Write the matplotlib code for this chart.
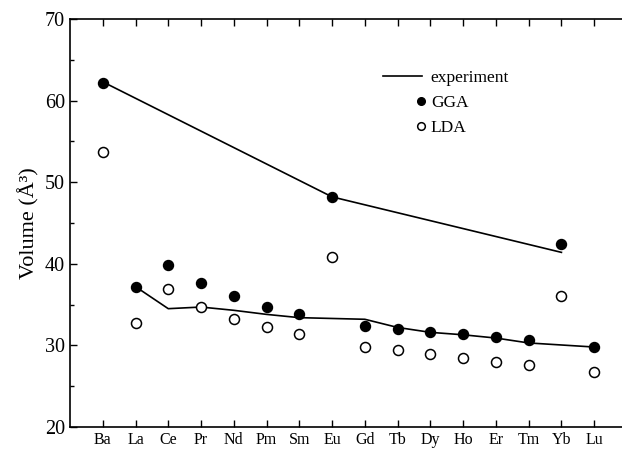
import numpy as np
import matplotlib
matplotlib.use("Agg")
import matplotlib.pyplot as plt
from matplotlib.lines import Line2D
from matplotlib.legend_handler import HandlerLine2D

plt.rcParams["font.family"] = ["Liberation Serif", "DejaVu Serif"]

elements = ["Ba", "La", "Ce", "Pr", "Nd", "Pm", "Sm", "Eu",
            "Gd", "Tb", "Dy", "Ho", "Er", "Tm", "Yb", "Lu"]

# calculated volumes (A^3)
gga = [62.1, 37.2, 39.9, 37.6, 36.1, 34.7, 33.8, 48.2,
       32.4, 32.0, 31.6, 31.4, 31.0, 30.7, 42.4, 29.8]
lda = [53.7, 32.8, 36.9, 34.7, 33.2, 32.3, 31.4, 40.8,
       29.8, 29.4, 28.9, 28.5, 28.0, 27.6, 36.1, 26.7]

# experimental volumes: divalent metals and trivalent series
exp_div_elements = ["Ba", "Eu", "Yb"]
exp_div = [62.3, 48.2, 41.4]
exp_tri_elements = ["La", "Ce", "Pr", "Nd", "Pm", "Sm", "Eu", "Gd",
                    "Tb", "Dy", "Ho", "Er", "Tm", "Lu"]
exp_tri = [37.2, 34.5, 34.7, 34.3, 33.8, 33.4, 33.3, 33.2,
           32.2, 31.6, 31.3, 30.9, 30.3, 29.8]


class MarkerAtEnd(HandlerLine2D):
    # single marker drawn at the right end of the handle box
    # (with numpoints=1 the marker goes on the midpoint of xdata)
    def get_xdata(self, legend, xdescent, ydescent, width, height, fontsize):
        xend = -xdescent + width
        xdata = [xend - 0.1 * fontsize, xend]
        return xdata, [xend - 0.05 * fontsize]


x = np.arange(len(elements))
pos = {e: i for i, e in enumerate(elements)}

fig = plt.figure(figsize=(6.22, 4.49), dpi=100)
ax = fig.add_axes([0.1125, 0.049, 0.8955, 0.9087])

ax.plot([pos[e] for e in exp_div_elements], exp_div, color="black", lw=1.2)
ax.plot([pos[e] for e in exp_tri_elements], exp_tri, color="black", lw=1.2)
ax.plot(x, gga, "o", color="black", ms=7.2, ls="none")
ax.plot(x, lda, "o", mfc="white", mec="black", mew=1.1, ms=7.2, ls="none")

ax.set_xlim(-1, 16)
ax.set_ylim(20, 70)
ax.set_xticks(x)
ax.set_xticklabels(elements, fontsize=11.5)
ax.set_yticks(np.arange(20, 71, 10))
ax.set_yticks(np.arange(25, 70, 10), minor=True)
ax.tick_params(axis="y", labelsize=14.5)
ax.tick_params(which="both", direction="in", top=True, width=1.0)
ax.tick_params(which="major", length=5)
ax.tick_params(which="minor", length=3)
ax.tick_params(axis="x", pad=3.5)
for s in ax.spines.values():
    s.set_linewidth(1.2)

ax.set_ylabel("Volume (Å³)", fontsize=16, labelpad=4)

h_exp = Line2D([], [], color="black", lw=1.2)
h_gga = Line2D([], [], marker="o", color="black", ls="none", ms=5.5)
h_lda = Line2D([], [], marker="o", mfc="white", mec="black", mew=1.1,
               ls="none", ms=5.5)
ax.legend([h_exp, h_gga, h_lda], ["experiment", "GGA", "LDA"],
          handler_map={h_gga: MarkerAtEnd(), h_lda: MarkerAtEnd()},
          loc="upper left", bbox_to_anchor=(0.562, 0.875), frameon=False,
          fontsize=12.5, handlelength=2.25, handletextpad=0.5,
          labelspacing=0.5, borderpad=0, borderaxespad=0)

fig.savefig("out.png", dpi=100)
